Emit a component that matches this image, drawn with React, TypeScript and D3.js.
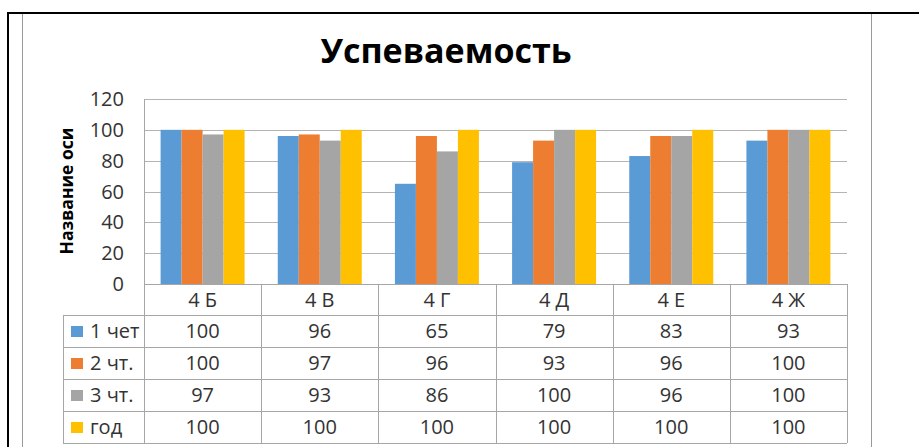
import React from "react";
import { scaleBand, scaleLinear, range } from "d3";

const categories = ["4 Б", "4 В", "4 Г", "4 Д", "4 Е", "4 Ж"];
const seriesNames = ["1 чет", "2 чт.", "3 чт.", "год"];
const q1 = [100, 96, 65, 79, 83, 93];
const q2 = [100, 97, 96, 93, 96, 100];
const q3 = [97, 93, 86, 100, 96, 100];
const year = [100, 100, 100, 100, 100, 100];
const yTicks = [0, 20, 40, 60, 80, 100, 120];

const seriesValues = [q1, q2, q3, year];
const colors = ["#5B9BD5", "#ED7D31", "#A5A5A5", "#FFC000"];

const width = 919;
const height = 447;
const plotLeft = 144;
const plotRight = 847;
const plotTop = 99;
const plotBottom = 284;
const legendLeft = 63;
const headerBottom = 315;
const rowHeight = 32;
const font = "'Open Sans', 'Noto Sans', sans-serif";
const gridColor = "#B4B4B4";
const tableColor = "#A6A6A6";

const x = scaleBand().domain(categories).range([plotLeft, plotRight]);
const xInner = scaleBand()
  .domain(seriesNames)
  .range([0, x.bandwidth()])
  .paddingOuter(0.79);
const y = scaleLinear().domain([0, 120]).range([plotBottom, plotTop]);
const rowY = (i: number) => headerBottom + i * rowHeight;

const App = () => (
  <svg
    width={width}
    height={height}
    style={{ position: "absolute", left: 0, top: 0, background: "#fff" }}
    fontFamily={font}
  >
    {/* outer frames */}
    <line x1={8} x2={width} y1={13} y2={13} stroke="#000" strokeWidth={2} />
    <line x1={8} x2={8} y1={12} y2={height} stroke="#000" strokeWidth={2} />
    <line x1={22.5} x2={22.5} y1={14} y2={height} stroke="#9A9A9A" />
    <line x1={871.5} x2={871.5} y1={14} y2={height} stroke="#9A9A9A" />

    <text
      x={446}
      y={63}
      textAnchor="middle"
      fontSize={34}
      fontWeight="bold"
      fill="#000"
    >
      Успеваемость
    </text>

    {/* gridlines */}
    {yTicks.map((t) => (
      <line
        key={t}
        x1={plotLeft}
        x2={plotRight}
        y1={Math.round(y(t)) + 0.5}
        y2={Math.round(y(t)) + 0.5}
        stroke={t === 0 ? tableColor : gridColor}
      />
    ))}
    {yTicks.map((t) => (
      <text
        key={t}
        x={124}
        y={y(t)}
        dy="0.35em"
        textAnchor="end"
        fontSize={20}
        fill="#333"
      >
        {t}
      </text>
    ))}
    <text
      transform={`translate(73, ${191}) rotate(-90)`}
      textAnchor="middle"
      fontSize={17.5}
      fontWeight="bold"
      fill="#000"
    >
      Название оси
    </text>

    {/* bars */}
    {categories.map((c, ci) => (
      <g key={c} transform={`translate(${x(c)}, 0)`}>
        {seriesNames.map((s, si) => (
          <rect
            key={s}
            x={xInner(s)}
            y={y(seriesValues[si][ci])}
            width={xInner.bandwidth()}
            height={plotBottom - y(seriesValues[si][ci])}
            fill={colors[si]}
          />
        ))}
      </g>
    ))}

    {/* data table */}
    <g stroke={tableColor} fill="none">
      <line x1={plotLeft + 0.5} x2={plotLeft + 0.5} y1={plotTop} y2={rowY(4)} />
      {categories.map((c) => (
        <line
          key={c}
          x1={Math.round(x(c)! + x.bandwidth()) + 0.5}
          x2={Math.round(x(c)! + x.bandwidth()) + 0.5}
          y1={plotBottom}
          y2={rowY(4)}
        />
      ))}
      <line x1={legendLeft + 0.5} x2={legendLeft + 0.5} y1={headerBottom} y2={rowY(4)} />
      {range(0, 5).map((i) => (
        <line
          key={i}
          x1={legendLeft}
          x2={plotRight}
          y1={Math.round(rowY(i)) + 0.5}
          y2={Math.round(rowY(i)) + 0.5}
        />
      ))}
    </g>
    {categories.map((c) => (
      <text
        key={c}
        x={x(c)! + x.bandwidth() / 2}
        y={(plotBottom + headerBottom) / 2}
        dy="0.35em"
        textAnchor="middle"
        fontSize={20}
        fill="#333"
      >
        {c}
      </text>
    ))}
    {seriesNames.map((s, si) => (
      <g key={s}>
        <rect x={71} y={rowY(si) + 11} width={12} height={11} fill={colors[si]} />
        <text
          x={90}
          y={rowY(si) + rowHeight / 2}
          dy="0.35em"
          fontSize={20}
          fill="#333"
        >
          {s}
        </text>
        {categories.map((c, ci) => (
          <text
            key={c}
            x={x(c)! + x.bandwidth() / 2}
            y={rowY(si) + rowHeight / 2}
            dy="0.35em"
            textAnchor="middle"
            fontSize={20}
            fill="#333"
          >
            {seriesValues[si][ci]}
          </text>
        ))}
      </g>
    ))}
  </svg>
);

export default App;
